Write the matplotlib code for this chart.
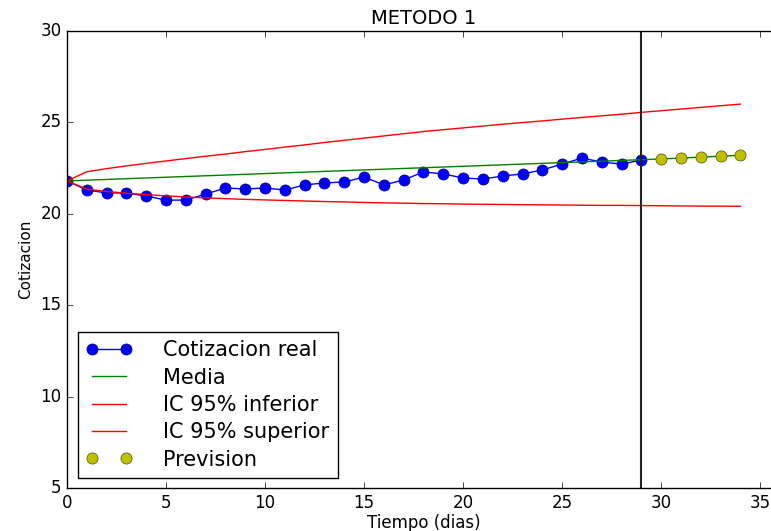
import matplotlib
matplotlib.use('Agg')
import matplotlib.pyplot as plt

plt.style.use('classic')

# dias observados y prevision
dias = list(range(0, 30))
cotizacion = [21.8, 21.3, 21.14, 21.14, 20.97, 20.75, 20.75, 21.08, 21.41, 21.36,
              21.41, 21.3, 21.58, 21.69, 21.74, 22.01, 21.58, 21.85, 22.29, 22.18,
              21.96, 21.9, 22.07, 22.18, 22.4, 22.72, 23.05, 22.83, 22.72, 22.94]

dias_total = list(range(0, 35))
media = [21.8, 21.84, 21.88, 21.92, 21.96, 22.0, 22.04, 22.08, 22.12, 22.16,
         22.2, 22.24, 22.28, 22.32, 22.36, 22.4, 22.44, 22.48, 22.52, 22.56,
         22.6, 22.64, 22.68, 22.72, 22.76, 22.8, 22.84, 22.88, 22.92, 22.96,
         23.0, 23.05, 23.1, 23.15, 23.2]
ic_inf = [21.8, 21.35, 21.22, 21.13, 21.05, 20.98, 20.92, 20.87, 20.83, 20.79,
          20.76, 20.73, 20.7, 20.67, 20.65, 20.62, 20.6, 20.58, 20.56, 20.55,
          20.53, 20.52, 20.51, 20.5, 20.49, 20.48, 20.47, 20.46, 20.46, 20.45,
          20.44, 20.43, 20.42, 20.42, 20.41]
ic_sup = [21.8, 22.3, 22.47, 22.62, 22.76, 22.89, 23.02, 23.15, 23.27, 23.4,
          23.52, 23.65, 23.77, 23.9, 24.02, 24.14, 24.26, 24.38, 24.5, 24.6,
          24.7, 24.8, 24.9, 24.99, 25.08, 25.18, 25.27, 25.36, 25.45, 25.55,
          25.64, 25.73, 25.82, 25.91, 26.0]

dias_prev = [30, 31, 32, 33, 34]
prevision = [23.0, 23.05, 23.1, 23.15, 23.2]

corte = 29

fig = plt.figure(figsize=(7.71, 5.31), dpi=100, facecolor='white')
ax = fig.add_axes([67 / 771, 43 / 531, 713 / 771, 457 / 531])

ax.plot(dias, cotizacion, 'bo-', markersize=8, markeredgecolor='#000080', label='Cotizacion real')
ax.plot(dias_total, media, 'g-', label='Media')
ax.plot(dias_total, ic_inf, 'r-', label='IC 95% inferior')
ax.plot(dias_total, ic_sup, 'r-', label='IC 95% superior')
ax.plot(dias_prev, prevision, 'yo', markersize=8, markeredgecolor='#505000', label='Prevision')
ax.axvline(corte, color='#222222', linewidth=1.5)

ax.set_xlim(0, 36)
ax.set_ylim(5, 30)
ax.set_xticks([0, 5, 10, 15, 20, 25, 30, 35])
ax.set_yticks([5, 10, 15, 20, 25, 30])
ax.tick_params(labelsize=12)
ax.set_title('METODO 1', fontsize=14)
ax.set_xlabel('Tiempo (dias)', fontsize=12, labelpad=2)
ax.set_ylabel('Cotizacion', fontsize=11)

ax.legend(loc='lower left', bbox_to_anchor=(0.015, 0.022), borderaxespad=0,
          fontsize=15, numpoints=2, frameon=True, borderpad=0.4,
          labelspacing=0.35, handletextpad=1.5, handlelength=2.2)

fig.savefig('out.png', dpi=100, facecolor='white')
